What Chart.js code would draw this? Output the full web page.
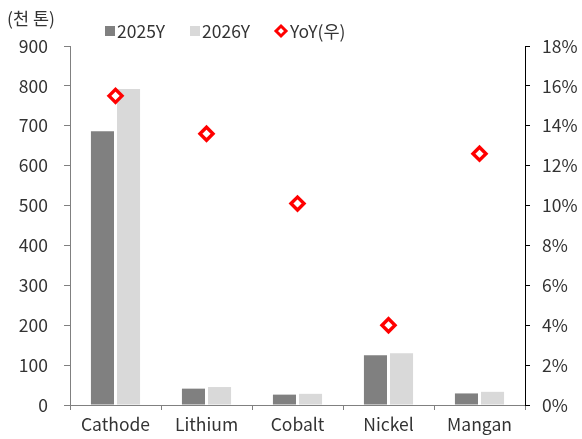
<!DOCTYPE html>
<html>
<head>
<meta charset="utf-8">
<script src="https://cdn.jsdelivr.net/npm/chart.js@4/dist/chart.umd.min.js"></script>
<style>
  html, body { margin: 0; padding: 0; background: #fff; }
  #wrap { width: 582px; height: 439px; position: relative; }
</style>
</head>
<body>
<div id="wrap"><canvas id="chart"></canvas></div>
<script>
// categories and series
const materials = ['Cathode', 'Lithium', 'Cobalt', 'Nickel', 'Mangan'];
const demand2025 = [686, 41, 26, 125, 29];
const demand2026 = [792, 45, 28, 130, 33];
const yoyPct = [15.5, 13.6, 10.1, 4.0, 12.6];

const leftTicks = [0, 900, 100];
const rightTicks = [0, 18, 2];

const FONT = '"Noto Sans CJK KR", "Noto Sans", sans-serif';
const TXT = '#333333';
const SIZE = 17.5;

// legend + unit label drawn on the canvas at fixed spots
const topLabels = {
  id: 'topLabels',
  afterDraw(chart) {
    const ctx = chart.ctx;
    ctx.save();
    ctx.font = SIZE + 'px ' + FONT;
    ctx.fillStyle = TXT;
    ctx.textBaseline = 'middle';
    ctx.textAlign = 'left';
    ctx.fillText('(천 톤)', 7, 18);

    const items = [
      { x: 105, ds: chart.data.datasets[1] },
      { x: 190, ds: chart.data.datasets[2] },
      { x: 275, ds: chart.data.datasets[0] }
    ];
    const y = 31;
    items.forEach(it => {
      if (it.ds.type === 'line') {
        ctx.fillStyle = '#fff';
        ctx.strokeStyle = it.ds.borderColor;
        ctx.lineWidth = 3;
        ctx.beginPath();
        ctx.moveTo(it.x + 6, y - 5);
        ctx.lineTo(it.x + 11, y);
        ctx.lineTo(it.x + 6, y + 5);
        ctx.lineTo(it.x + 1, y);
        ctx.closePath();
        ctx.fill();
        ctx.stroke();
        ctx.fillStyle = TXT;
        ctx.fillText(it.ds.label, it.x + 15, y);
      } else {
        ctx.fillStyle = it.ds.backgroundColor;
        ctx.fillRect(it.x, y - 5, 10, 10);
        ctx.fillStyle = TXT;
        ctx.fillText(it.ds.label, it.x + 12, y);
      }
    });
    ctx.restore();
  }
};

new Chart(document.getElementById('chart'), {
  type: 'bar',
  data: {
    labels: materials,
    datasets: [
      {
        type: 'line',
        label: 'YoY(우)',
        data: yoyPct,
        yAxisID: 'y1',
        showLine: false,
        pointStyle: 'rectRot',
        pointRadius: 6.5,
        pointHoverRadius: 6.5,
        pointBorderWidth: 3.4,
        borderColor: '#ff0000',
        backgroundColor: '#ffffff',
        pointBackgroundColor: '#ffffff',
        order: 0
      },
      {
        label: '2025Y',
        data: demand2025,
        backgroundColor: '#808080',
        yAxisID: 'y',
        categoryPercentage: 0.573,
        barPercentage: 0.885,
        order: 1
      },
      {
        label: '2026Y',
        data: demand2026,
        backgroundColor: '#d9d9d9',
        yAxisID: 'y',
        categoryPercentage: 0.573,
        barPercentage: 0.885,
        order: 1
      }
    ]
  },
  options: {
    responsive: true,
    maintainAspectRatio: false,
    animation: false,
    layout: { padding: { top: 46, left: 0, right: 0, bottom: 0 } },
    plugins: {
      legend: { display: false },
      tooltip: { enabled: false }
    },
    scales: {
      x: {
        offset: true,
        grid: { offset: true, drawOnChartArea: false, drawTicks: true, tickLength: 5, color: '#808080' },
        border: { color: '#808080', width: 1 },
        ticks: { color: TXT, font: { family: FONT, size: SIZE }, padding: 4 },
        afterFit(scale) { scale.height = 34; }
      },
      y: {
        position: 'left',
        min: leftTicks[0], max: leftTicks[1],
        grid: { drawOnChartArea: false, drawTicks: true, tickLength: 6, color: '#808080' },
        border: { color: '#808080', width: 1 },
        ticks: { stepSize: leftTicks[2], color: TXT, font: { family: FONT, size: SIZE }, padding: 16 },
        afterFit(scale) { scale.width = 70; }
      },
      y1: {
        position: 'right',
        min: rightTicks[0], max: rightTicks[1],
        grid: { drawOnChartArea: false, drawTicks: true, tickLength: 5, color: '#000' },
        border: { color: '#000', width: 1 },
        ticks: {
          stepSize: rightTicks[2], color: TXT, font: { family: FONT, size: SIZE }, padding: 12,
          callback: v => v + '%'
        },
        afterFit(scale) { scale.width = 57; }
      }
    }
  },
  plugins: [topLabels]
});
</script>
</body>
</html>
